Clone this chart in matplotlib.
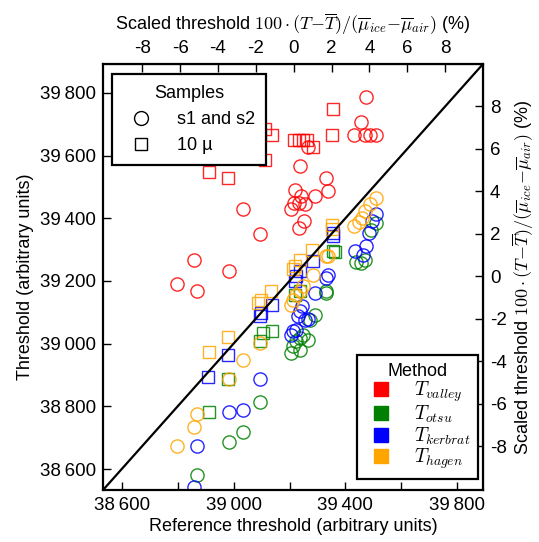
import matplotlib
matplotlib.use('Agg')
import matplotlib.pyplot as plt
from matplotlib.lines import Line2D
from matplotlib.ticker import FuncFormatter, MultipleLocator, FixedLocator

plt.rcParams['font.family'] = ['Liberation Sans', 'DejaVu Sans']
plt.rcParams['mathtext.fontset'] = 'cm'
plt.rcParams['axes.unicode_minus'] = False
plt.rcParams['font.size'] = 13

# thresholds: (reference, method) pairs, circles = s1 and s2, squares = 10 µ
valley_s_x = [39472, 39456, 39430, 39471, 39489, 39508, 39266, 39236, 39330, 39219,
              39338, 39290, 39240, 39216, 39234, 39255, 39207, 39032, 39251, 39233,
              39094, 38984, 38858, 38796, 38868]
valley_s_y = [39787, 39707, 39667, 39667, 39667, 39667, 39628, 39568, 39529, 39491,
              39488, 39470, 39470, 39449, 39449, 39447, 39428, 39428, 39390, 39369,
              39350, 39231, 39268, 39190, 39169]
valley_10_x = [39354, 39352, 39114, 39136, 39216, 39233, 39249, 39261, 39284, 39112,
               38913, 38979]
valley_10_y = [39747, 39667, 39685, 39667, 39649, 39649, 39649, 39649, 39628, 39587,
               39547, 39529]

otsu_s_x = [39511, 39493, 39457, 39437, 39469, 39332, 39330, 39290, 39272, 39249,
            39237, 39225, 39213, 39207, 39237, 39266, 39094, 39032, 38984, 38868]
otsu_s_y = [39385, 39364, 39257, 39259, 39268, 39167, 39162, 39092, 39076, 39029,
            39018, 39007, 38991, 38970, 38981, 39013, 38814, 38717, 38685, 38582]
otsu_10_x = [39354, 39362, 39237, 39219, 39136, 39104, 39094, 38979, 38913]
otsu_10_y = [39297, 39291, 39167, 39156, 39039, 39034, 39007, 38888, 38781]

kerbrat_s_x = [39511, 39496, 39484, 39472, 39433, 39463, 39338, 39330, 39290, 39243,
               39237, 39231, 39255, 39266, 39213, 39207, 39225, 39094, 38984, 39032,
               38868, 38858]
kerbrat_s_y = [39412, 39390, 39353, 39310, 39294, 39284, 39220, 39210, 39162, 39119,
               39103, 39087, 39076, 39079, 39039, 39029, 39042, 38887, 38781, 38787,
               38672, 38544]
kerbrat_10_x = [39356, 39354, 39284, 39237, 39225, 39219, 39136, 39098, 39094, 38981,
                38909]
kerbrat_10_y = [39353, 39342, 39262, 39231, 39215, 39199, 39124, 39098, 39087, 38965,
                38895]

hagen_s_x = [39508, 39489, 39471, 39461, 39449, 39430, 39330, 39338, 39284, 39249,
             39237, 39225, 39213, 39204, 39094, 39032, 38984, 38868, 38858, 38796]
hagen_s_y = [39465, 39447, 39422, 39401, 39387, 39374, 39278, 39281, 39220, 39183,
             39167, 39156, 39140, 39124, 39002, 38949, 38887, 38776, 38734, 38672]
hagen_10_x = [39352, 39352, 39279, 39237, 39219, 39211, 39133, 39098, 39088, 38979,
              38913]
hagen_10_y = [39380, 39366, 39300, 39268, 39247, 39238, 39167, 39140, 39130, 39021,
              38972]

methods = [r'$T_{valley}$', r'$T_{otsu}$', r'$T_{kerbrat}$', r'$T_{hagen}$']
colors = ['red', 'green', 'blue', 'orange']
series = [(valley_s_x, valley_s_y, valley_10_x, valley_10_y),
          (otsu_s_x, otsu_s_y, otsu_10_x, otsu_10_y),
          (kerbrat_s_x, kerbrat_s_y, kerbrat_10_x, kerbrat_10_y),
          (hagen_s_x, hagen_s_y, hagen_10_x, hagen_10_y)]
pct_ticks = [-8, -6, -4, -2, 0, 2, 4, 6, 8]

lims = (38533, 39892)
t_mean = 39215.0
mu_diff = 6770.0   # mean(mu_ice) - mean(mu_air)


def to_pct(t):
    return 100 * (t - t_mean) / mu_diff


def from_pct(p):
    return p * mu_diff / 100 + t_mean


def thin_thousands(v, pos):
    s = '{:,.0f}'.format(v)
    return s.replace(',', '\u2009')


fig = plt.figure(figsize=(5.39, 5.42), dpi=100)
ax = fig.add_axes([0.1911, 0.0959, 0.705, 0.786])

for c, (sx, sy, qx, qy) in zip(colors, series):
    ax.plot(sx, sy, 'o', ms=9.5, mfc='none', mec=c, mew=1.0, alpha=0.85)
    ax.plot(qx, qy, 's', ms=8.5, mfc='none', mec=c, mew=1.0, alpha=0.85)

ax.plot(lims, lims, color='black', lw=1.6)
ax.set_xlim(lims)
ax.set_ylim(lims)

ax.xaxis.set_major_locator(MultipleLocator(200))
ax.yaxis.set_major_locator(MultipleLocator(200))
ax.xaxis.set_major_formatter(FuncFormatter(
    lambda v, p: thin_thousands(v, p) if round(v) % 400 == 200 else ''))
ax.yaxis.set_major_formatter(FuncFormatter(thin_thousands))
ax.tick_params(direction='in', length=6, width=1, pad=5, labelsize=13.5)
for sp in ax.spines.values():
    sp.set_linewidth(1.6)

ax.set_xlabel('Reference threshold (arbitrary units)', fontsize=13, labelpad=3)
ax.set_ylabel('Threshold (arbitrary units)', fontsize=13, labelpad=4)

pct_label = (r'Scaled threshold $100\cdot(T{-}\overline{T})/'
             r'(\overline{\mu}_{ice}{-}\overline{\mu}_{air})$ (%)')

top = ax.secondary_xaxis('top', functions=(to_pct, from_pct))
top.xaxis.set_major_locator(FixedLocator(pct_ticks))
top.tick_params(direction='in', length=6, width=1, pad=5, labelsize=13.5)
top.set_xlabel(pct_label, fontsize=13, labelpad=7)

right = ax.secondary_yaxis('right', functions=(to_pct, from_pct))
right.yaxis.set_major_locator(FixedLocator(pct_ticks))
right.tick_params(direction='in', length=6, width=1, pad=5, labelsize=13.5)
right.set_ylabel(pct_label, fontsize=13, labelpad=3)

sample_handles = [Line2D([], [], ls='none', marker='o', ms=10, mfc='none', mec='black'),
                  Line2D([], [], ls='none', marker='s', ms=9, mfc='none', mec='black')]
leg1 = ax.legend(sample_handles, ['s1 and s2', '10 µ'], title='Samples',
                 loc='upper left', bbox_to_anchor=(0.024, 0.976),
                 fancybox=False, framealpha=1, edgecolor='black', fontsize=13,
                 title_fontsize=13, handletextpad=1.0, borderpad=0.6,
                 labelspacing=0.5, borderaxespad=0)
leg1.get_frame().set_linewidth(1.6)
ax.add_artist(leg1)

method_handles = [Line2D([], [], ls='none', marker='s', ms=10, mfc=c, mec=c)
                  for c in colors]
leg2 = ax.legend(method_handles, methods, title='Method',
                 loc='lower right', bbox_to_anchor=(0.987, 0.026),
                 fancybox=False, framealpha=1, edgecolor='black', fontsize=14,
                 title_fontsize=13, handletextpad=0.9, borderpad=0.4,
                 handlelength=1.6, labelspacing=0.0, borderaxespad=0)
leg2.get_frame().set_linewidth(1.6)

fig.savefig('out.png', dpi=100)
